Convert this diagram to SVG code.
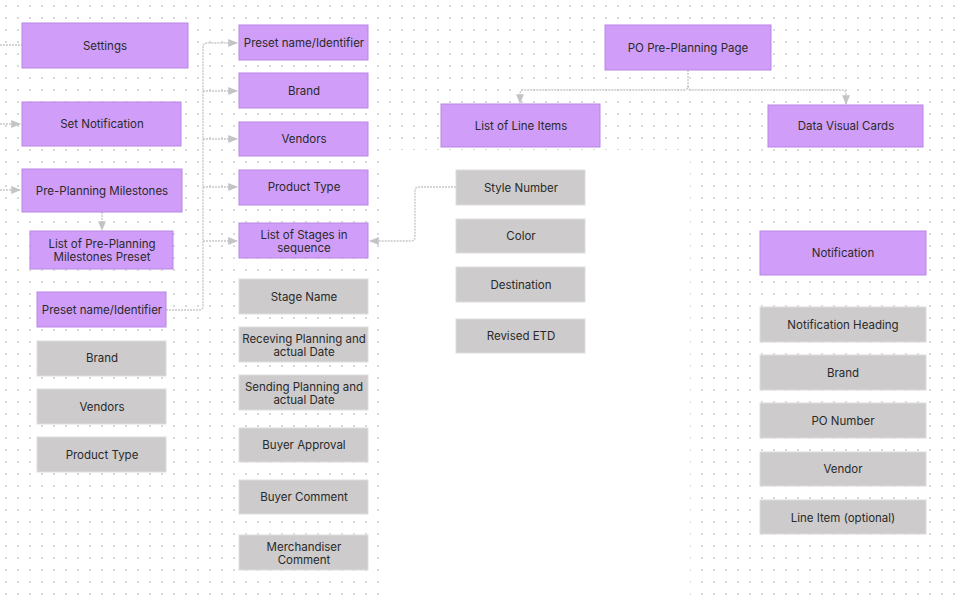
<svg xmlns="http://www.w3.org/2000/svg" width="959" height="601" viewBox="0 0 959 601">
<defs>
<pattern id="dots" width="12" height="12" patternUnits="userSpaceOnUse"><circle cx="6" cy="6" r="0.9" fill="#c9c9c9"/></pattern>
<marker id="ar" viewBox="0 0 10 10" refX="9" refY="5" markerWidth="7" markerHeight="7" orient="auto-start-reverse"><path d="M0,1 L10,5 L0,9 z" fill="#c4c4c4"/></marker>
<style>
.p{fill:#d09ef8;stroke:#b985e6;stroke-width:1}
.g{fill:#cdcbcb;stroke:#dddddd;stroke-width:1}
text{font-family:Inter,"Noto Sans",sans-serif;font-size:11.5px;fill:#2a2a2a;text-anchor:middle;dominant-baseline:central}
.c path{fill:none;stroke:#c8c8c8;stroke-width:1.4;stroke-dasharray:2 1}
</style>
</defs>
<rect width="959" height="601" fill="#fff"/>
<rect width="959" height="601" fill="url(#dots)"/>
<rect x="380" y="150" width="310" height="451" fill="#fff"/>
<g class="c">
<path d="M0,45 H22"/>
<path d="M0,124 H20" marker-end="url(#ar)"/>
<path d="M0,190 H20" marker-end="url(#ar)"/>
<path d="M102,212 V230" marker-end="url(#ar)"/>
<path d="M166,310 H199 Q203,310 203,306 V47 Q203,43 207,43 H237" marker-end="url(#ar)"/>
<path d="M203,91 H237" marker-end="url(#ar)"/>
<path d="M203,139 H237" marker-end="url(#ar)"/>
<path d="M203,187 H237" marker-end="url(#ar)"/>
<path d="M203,241 H237" marker-end="url(#ar)"/>
<path d="M456,187 H419 Q415,187 415,191 V237 Q415,241 411,241 H370" marker-end="url(#ar)"/>
<path d="M688,70 V86 Q688,90 684,90 H524 Q520,90 520,94 V103" marker-end="url(#ar)"/>
<path d="M688,86 Q688,90 692,90 H842 Q846,90 846,94 V104" marker-end="url(#ar)"/>
</g>
<g id="settings"><rect class="p" x="22" y="23" width="166" height="45"/><text x="105" y="46">Settings</text></g>
<g id="setnotif"><rect class="p" x="22" y="102" width="159" height="44"/><text x="102" y="124">Set Notification</text></g>
<g id="milestones"><rect class="p" x="22" y="169" width="160" height="43"/><text x="102" y="191">Pre-Planning Milestones</text></g>
<g id="msPreset"><rect class="p" x="30" y="231" width="143" height="38"/><text x="102" y="244">List of Pre-Planning</text><text x="102" y="257">Milestones Preset</text></g>
<g id="lPreset"><rect class="p" x="37" y="292" width="129" height="35"/><text x="102" y="310">Preset name/Identifier</text></g>
<g id="lBrand"><rect class="g" x="37" y="341" width="129" height="35"/><text x="102" y="358">Brand</text></g>
<g id="lVendors"><rect class="g" x="37" y="389" width="129" height="35"/><text x="102" y="407">Vendors</text></g>
<g id="lProduct"><rect class="g" x="37" y="437" width="129" height="35"/><text x="102" y="455">Product Type</text></g>
<g id="mPreset"><rect class="p" x="239" y="25" width="129" height="35"/><text x="304" y="43">Preset name/Identifier</text></g>
<g id="mBrand"><rect class="p" x="239" y="73" width="129" height="35"/><text x="304" y="91">Brand</text></g>
<g id="mVendors"><rect class="p" x="239" y="122" width="129" height="34"/><text x="304" y="139">Vendors</text></g>
<g id="mProduct"><rect class="p" x="239" y="170" width="129" height="35"/><text x="304" y="187">Product Type</text></g>
<g id="mStages"><rect class="p" x="239" y="223" width="129" height="35"/><text x="304" y="235">List of Stages in</text><text x="304" y="248">sequence</text></g>
<g id="stageName"><rect class="g" x="239" y="279" width="129" height="35"/><text x="304" y="297">Stage Name</text></g>
<g id="receving"><rect class="g" x="239" y="327" width="129" height="35"/><text x="304" y="339">Receving Planning and</text><text x="304" y="352">actual Date</text></g>
<g id="sending"><rect class="g" x="239" y="375" width="129" height="35"/><text x="304" y="387">Sending Planning and</text><text x="304" y="400">actual Date</text></g>
<g id="buyerApproval"><rect class="g" x="239" y="428" width="129" height="34"/><text x="304" y="445">Buyer Approval</text></g>
<g id="buyerComment"><rect class="g" x="239" y="480" width="129" height="34"/><text x="304" y="497">Buyer Comment</text></g>
<g id="merch"><rect class="g" x="239" y="535" width="129" height="35"/><text x="304" y="547">Merchandiser</text><text x="304" y="560">Comment</text></g>
<g id="poPage"><rect class="p" x="605" y="25" width="166" height="45"/><text x="688" y="48">PO Pre-Planning Page</text></g>
<g id="lineItems"><rect class="p" x="441" y="104" width="159" height="43"/><text x="521" y="126">List of Line Items</text></g>
<g id="dataCards"><rect class="p" x="768" y="105" width="155" height="42"/><text x="846" y="126">Data Visual Cards</text></g>
<g id="style"><rect class="g" x="456" y="170" width="129" height="35"/><text x="521" y="188">Style Number</text></g>
<g id="color"><rect class="g" x="456" y="219" width="129" height="34"/><text x="521" y="236">Color</text></g>
<g id="dest"><rect class="g" x="456" y="267" width="129" height="35"/><text x="521" y="285">Destination</text></g>
<g id="etd"><rect class="g" x="456" y="319" width="129" height="34"/><text x="521" y="336">Revised ETD</text></g>
<g id="notif"><rect class="p" x="760" y="231" width="166" height="44"/><text x="843" y="253">Notification</text></g>
<g id="nHeading"><rect class="g" x="760" y="307" width="166" height="35"/><text x="843" y="325">Notification Heading</text></g>
<g id="nBrand"><rect class="g" x="760" y="355" width="166" height="35"/><text x="843" y="373">Brand</text></g>
<g id="nPO"><rect class="g" x="760" y="403" width="166" height="35"/><text x="843" y="421">PO Number</text></g>
<g id="nVendor"><rect class="g" x="760" y="452" width="166" height="34"/><text x="843" y="469">Vendor</text></g>
<g id="nLine"><rect class="g" x="760" y="500" width="166" height="34"/><text x="843" y="518">Line Item (optional)</text></g>
</svg>
